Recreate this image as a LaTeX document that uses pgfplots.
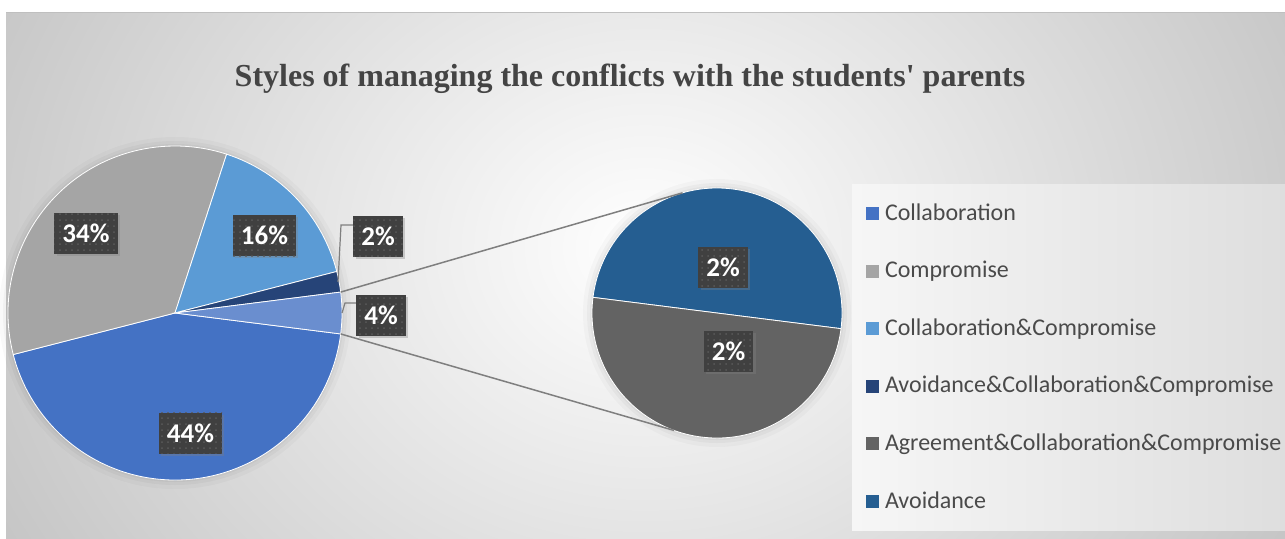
\documentclass[border=0pt]{standalone}
\usepackage{fontspec}
\usepackage{pgfplots}
\pgfplotsset{compat=1.18}
\usepackage{pgfplotstable}
\usetikzlibrary{shadows,patterns}
\newfontfamily\calibri{Carlito}
\newfontfamily\titlefont{Liberation Serif}
\definecolor{cCol}{HTML}{4472C4}
\definecolor{cCom}{HTML}{A5A5A5}
\definecolor{cCC}{HTML}{5B9BD5}
\definecolor{cACC}{HTML}{264478}
\definecolor{cAgr}{HTML}{636363}
\definecolor{cAvo}{HTML}{255E91}
\definecolor{cOth}{HTML}{6A8ECF}
\definecolor{lblbg}{HTML}{404040}
\definecolor{lbldot}{HTML}{5A5A5A}
\definecolor{titlec}{HTML}{444444}
\definecolor{legtext}{HTML}{4A4A4A}
\definecolor{bgout}{HTML}{B8B8B8}
\definecolor{legL}{HTML}{F6F6F6}
\definecolor{legR}{HTML}{DEDEDE}
\definecolor{linec}{HTML}{7F7F7F}

% percentages: Collaboration, Compromise, Collaboration&Compromise,
% Avoidance&Collaboration&Compromise, Agreement&Collaboration&Compromise, Avoidance
\pgfplotstableread{
value
44
34
16
2
2
2
}\piedata
\pgfplotstablegetelem{0}{value}\of\piedata\edef\vCol{\pgfplotsretval}
\pgfplotstablegetelem{1}{value}\of\piedata\edef\vCom{\pgfplotsretval}
\pgfplotstablegetelem{2}{value}\of\piedata\edef\vCC{\pgfplotsretval}
\pgfplotstablegetelem{3}{value}\of\piedata\edef\vACC{\pgfplotsretval}
\pgfplotstablegetelem{4}{value}\of\piedata\edef\vAgr{\pgfplotsretval}
\pgfplotstablegetelem{5}{value}\of\piedata\edef\vAvo{\pgfplotsretval}
\pgfmathsetmacro\vOther{\vAgr+\vAvo}
\pgfmathsetmacro\aS{-\vOther*1.8}
\pgfmathsetmacro\aN{\vOther*1.8}
\pgfmathsetmacro\bA{\aS-\vCol*3.6}
\pgfmathsetmacro\bB{\bA-\vCom*3.6}
\pgfmathsetmacro\bC{\bB-\vCC*3.6}
\pgfmathsetmacro\bD{\bC-\vACC*3.6}
\pgfmathsetmacro\bE{\bD-\vOther*3.6}
\pgfmathsetmacro\sA{180+\aS}
\pgfmathsetmacro\sB{\sA-\vAvo/\vOther*360}
\pgfmathsetmacro\sC{\sB-\vAgr/\vOther*360}

% slice: cx, cy, r (axis units, 1 unit = 0.5pt), start angle, end angle, colour
\newcommand\slice[6]{%
  \fill[#6, draw=white, line width=0.4pt] (axis cs:#1,#2) -- ++(#4:{#3*0.5pt})
    arc[start angle=#4, end angle=#5, radius={#3*0.5pt}] -- cycle;}
% soft halo around a pie: cx, cy, r
\newcommand\halo[3]{%
  \fill[black, opacity=0.025] (axis cs:#1,#2) circle[radius={(#3+9)*0.5pt}];
  \fill[black, opacity=0.03] (axis cs:#1,#2) circle[radius={(#3+5)*0.5pt}];
  \fill[black, opacity=0.03] (axis cs:#1,#2) circle[radius={(#3+2)*0.5pt}];}

\tikzset{lbl/.style={fill=lblbg, text=white, inner xsep=4pt, inner ysep=0pt,
  minimum height=20.5pt, font=\calibri\bfseries\fontsize{13.5}{15}\selectfont,
  drop shadow={shadow xshift=1.2pt, shadow yshift=-1.2pt, opacity=0.35},
  postaction={pattern=dots, pattern color=lbldot}}}

\begin{document}
\begin{tikzpicture}
\begin{axis}[
  width=642.5pt, height=269pt, scale only axis,
  xmin=0, xmax=1285, ymin=0, ymax=538, enlargelimits=false,
  axis lines=none, ticks=none, clip=false,
  legend image code/.code={\fill[#1] (0pt,-3pt) rectangle (6.5pt,3.5pt);},
  legend cell align=left,
  legend style={at={(axis cs:866,335)}, anchor=north west, draw=none, fill=none,
    inner sep=0pt, outer sep=0pt, row sep=17.8pt, column sep=3pt,
    font=\calibri\fontsize{12}{13}\selectfont, text=legtext,
    nodes={inner sep=0pt, text height=8.5pt, text depth=2.5pt}},
]
\coordinate (BL) at (axis cs:0,0);
\coordinate (TR) at (axis cs:1285,538);
% background
\fill[white] (axis cs:-4,-4) rectangle (axis cs:1289,542);
\begin{scope}
  \clip (axis cs:6,-4) rectangle (axis cs:1289,526);
  \fill[bgout] (axis cs:6,-4) rectangle (axis cs:1289,526);
  \shade[inner color=white, outer color=bgout] (axis cs:645,290) ellipse[x radius=450pt, y radius=380pt];
\end{scope}
\draw[color=black!25, line width=0.5pt] (axis cs:6,526) -- (axis cs:1289,526);
% legend box
\shade[left color=legL, right color=legR] (axis cs:852,8) rectangle (axis cs:1289,354);

% halos
\halo{175}{225}{167}
\halo{717}{225}{125}
% main pie
\slice{175}{225}{167}{\aS}{\bA}{cCol}
\slice{175}{225}{167}{\bA}{\bB}{cCom}
\slice{175}{225}{167}{\bB}{\bC}{cCC}
\slice{175}{225}{167}{\bC}{\bD}{cACC}
\slice{175}{225}{167}{\bD}{\bE}{cOth}
% second pie
\slice{717}{225}{125}{\sA}{\sB}{cAvo}
\slice{717}{225}{125}{\sB}{\sC}{cAgr}

% connector lines
\draw[linec, line width=0.75pt] ([shift={(\aN:{167*0.5pt})}]axis cs:175,225) -- ([shift={(106:{125*0.5pt})}]axis cs:717,225);
\draw[linec, line width=0.75pt] ([shift={(\aS:{167*0.5pt})}]axis cs:175,225) -- ([shift={(250:{125*0.5pt})}]axis cs:717,225);
% leader lines
\draw[linec, line width=0.6pt] (axis cs:338,256) -- (axis cs:341,313) -- (axis cs:353,313);
\draw[linec, line width=0.6pt] (axis cs:342,225) -- (axis cs:345,235) -- (axis cs:356,235);

% data labels
\node[lbl] at (axis cs:86,305) {34\%};
\node[lbl] at (axis cs:264.5,302.5) {16\%};
\node[lbl] at (axis cs:378,301.5) {2\%};
\node[lbl] at (axis cs:381,222.5) {4\%};
\node[lbl] at (axis cs:190.5,105) {44\%};
\node[lbl] at (axis cs:723,270.5) {2\%};
\node[lbl] at (axis cs:728.5,187) {2\%};

% title
\node[anchor=base, text=titlec, font=\titlefont\bfseries\fontsize{16}{19}\selectfont]
  at (axis cs:630,452) {Styles of managing the conflicts with the students\textquotesingle\ parents};

\addlegendimage{fill=cCol, draw=none}\addlegendentry{Collaboration}
\addlegendimage{fill=cCom, draw=none}\addlegendentry{Compromise}
\addlegendimage{fill=cCC, draw=none}\addlegendentry{Collaboration\&Compromise}
\addlegendimage{fill=cACC, draw=none}\addlegendentry{Avoidance\&Collaboration\&Compromise}
\addlegendimage{fill=cAgr, draw=none}\addlegendentry{Agreement\&Collaboration\&Compromise}
\addlegendimage{fill=cAvo, draw=none}\addlegendentry{Avoidance}
\end{axis}
\pgfresetboundingbox
\path[use as bounding box] (BL) rectangle (TR);
\end{tikzpicture}
\end{document}
